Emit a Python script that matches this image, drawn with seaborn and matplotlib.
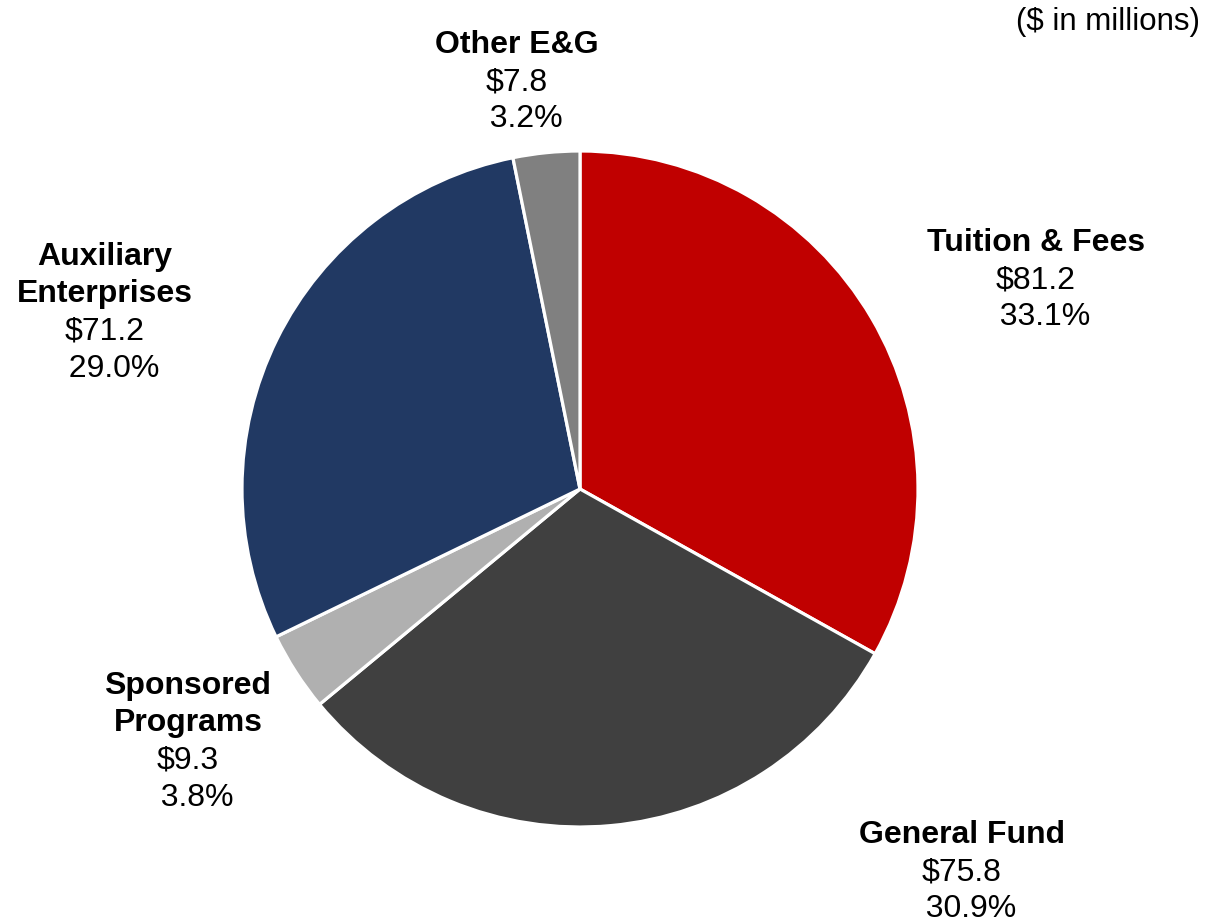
import matplotlib
matplotlib.use('Agg')
import matplotlib.pyplot as plt
import seaborn as sns

sns.set_theme(style='white')
plt.rcParams['font.family'] = ['Liberation Sans', 'DejaVu Sans']

# data ($ in millions), clockwise from 12 o'clock
categories = ['Tuition & Fees', 'General Fund', 'Sponsored\nPrograms',
              'Auxiliary\nEnterprises', 'Other E&G']
amounts = [81.2, 75.8, 9.3, 71.2, 7.8]
colors = ['#C00000', '#404040', '#B0B0B0', '#213963', '#808080']

# label anchor (x, y of first line) in pie-radius units
label_pos = [(1.349, 0.728), (1.130, -1.024), (-1.160, -0.583),
             (-1.405, 0.686), (-0.186, 1.314)]

fig = plt.figure(figsize=(12.3, 9.24), dpi=100)
ax = fig.add_axes([0, 0, 1, 1])

ax.pie(amounts, colors=colors, startangle=90, counterclock=False,
       radius=1, center=(0, 0),
       wedgeprops=dict(edgecolor='white', linewidth=2.3))

ax.set_xlim(-580 / 338, (1230 - 580) / 338)
ax.set_ylim(-(924 - 489) / 338, 489 / 338)
ax.set_aspect('equal')
ax.axis('off')

total = sum(amounts)
step = 0.11
for name, amt, (x, y) in zip(categories, amounts, label_pos):
    lines = name.split('\n')
    for i, ln in enumerate(lines):
        ax.text(x, y - i * step, ln, ha='center', va='center',
                fontsize=23, fontweight='bold', color='black')
    n = len(lines)
    ax.text(x, y - n * step, f'${amt:.1f}', ha='center', va='center',
            fontsize=23, color='black')
    ax.text(x, y - (n + 1) * step, f'  {amt / total * 100:.1f}%', ha='center',
            va='center', fontsize=23, color='black')

fig.text(1200 / 1230, 1 - 22 / 924, '($ in millions)', ha='right', va='center',
         fontsize=22.5, color='black')

plt.savefig('out.png', dpi=100)
plt.close()
